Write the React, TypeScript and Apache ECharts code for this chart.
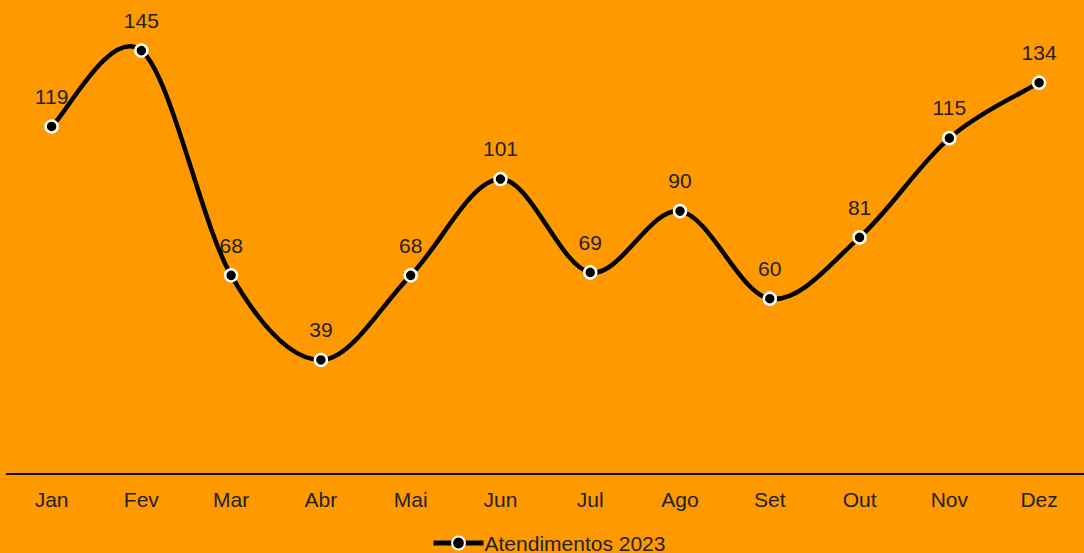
import React, { useEffect, useRef } from "react";
import * as echarts from "echarts";

const categories = ["Jan", "Fev", "Mar", "Abr", "Mai", "Jun", "Jul", "Ago", "Set", "Out", "Nov", "Dez"];
const values = [119, 145, 68, 39, 68, 101, 69, 90, 60, 81, 115, 134];
const seriesName = "Atendimentos 2023";
const K = 1 / 6;

function renderCurve(params: any, api: any) {
  const pts = values.map((v, i) => api.coord([i, v]) as number[]);
  const n = pts.length;
  const children: any[] = [];
  for (let i = 0; i < n - 1; i++) {
    const p0 = pts[i - 1] || pts[i];
    const p1 = pts[i];
    const p2 = pts[i + 1];
    const p3 = pts[i + 2] || pts[i + 1];
    children.push({
      type: "bezierCurve",
      shape: {
        x1: p1[0],
        y1: p1[1],
        cpx1: p1[0] + K * (p2[0] - p0[0]),
        cpy1: p1[1] + K * (p2[1] - p0[1]),
        cpx2: p2[0] - K * (p3[0] - p1[0]),
        cpy2: p2[1] - K * (p3[1] - p1[1]),
        x2: p2[0],
        y2: p2[1],
      },
      style: { stroke: "#000", lineWidth: 4.5, fill: null, lineCap: "round" },
    });
  }
  return { type: "group", children };
}

export default function App() {
  const ref = useRef<HTMLDivElement>(null);
  useEffect(() => {
    document.body.style.margin = "0";
    const chart = echarts.init(ref.current!, null, { renderer: "svg" });
    chart.setOption({
      animation: false,
      backgroundColor: "#FF9900",
      textStyle: { fontFamily: "Liberation Sans, Arial, sans-serif" },
      grid: { left: 6.7, width: 1080, top: 36, height: 437.8 },
      legend: {
        bottom: -0.5,
        left: 431,
        padding: 0,
        itemWidth: 50,
        itemHeight: 16,
        itemGap: 10,
        textStyle: { fontSize: 21, color: "#222", padding: [0, 0, 0, -4] },
        data: [
          {
            name: seriesName,
            itemStyle: { color: "#000", borderColor: "#fff", borderWidth: 2 },
            lineStyle: { color: "#000", width: 5, opacity: 1 },
          },
        ],
      },
      xAxis: {
        type: "category",
        data: categories,
        boundaryGap: true,
        axisLine: { lineStyle: { color: "#111", width: 2 } },
        axisTick: { show: false },
        axisLabel: { color: "#222", fontSize: 21, margin: 15.5 },
      },
      yAxis: {
        type: "value",
        min: 0,
        max: 150,
        show: false,
        splitLine: { show: false },
      },
      series: [
        {
          name: "curve",
          type: "custom",
          renderItem: renderCurve,
          data: [[0, 0]],
          z: 1,
          silent: true,
        },
        {
          name: seriesName,
          type: "line",
          data: values,
          z: 3,
          lineStyle: { color: "#000", width: 5, opacity: 0 },
          itemStyle: { color: "#000", borderColor: "#fff", borderWidth: 2.5 },
          symbol: "circle",
          symbolSize: 12,
          label: { show: true, position: "top", distance: 12.5, color: "#222", fontSize: 21 },
        },
      ],
    });
    return () => chart.dispose();
  }, []);
  return <div ref={ref} style={{ width: 1084, height: 553 }} />;
}
